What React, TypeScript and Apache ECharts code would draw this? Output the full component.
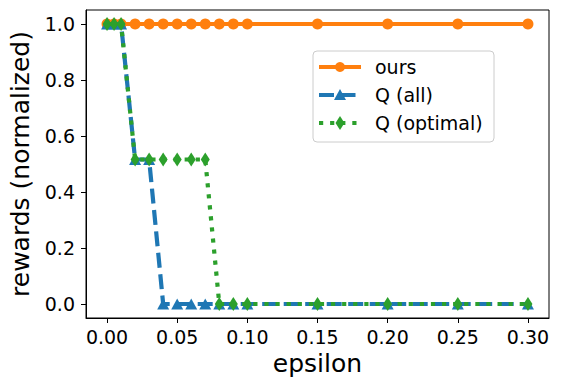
import React, { useEffect, useRef } from "react";
import * as echarts from "echarts";

const epsilons = [0, 0.005, 0.01, 0.02, 0.03, 0.04, 0.05, 0.06, 0.07, 0.08, 0.09, 0.1, 0.15, 0.2, 0.25, 0.3];
const ours = [1, 1, 1, 1, 1, 1, 1, 1, 1, 1, 1, 1, 1, 1, 1, 1];
const qAll = [1, 1, 1, 0.516, 0.516, 0, 0, 0, 0, 0, 0, 0, 0, 0, 0, 0];
const qOptimal = [1, 1, 1, 0.516, 0.516, 0.516, 0.516, 0.516, 0.516, 0, 0, 0, 0, 0, 0, 0];
const seriesNames = ["ours", "Q (all)", "Q (optimal)"];
const xTicks = [0, 0.05, 0.1, 0.15, 0.2, 0.25, 0.3];
const yTicks = [0, 0.2, 0.4, 0.6, 0.8, 1.0];

const FONT = "DejaVu Sans";
const COLORS = ["#ff7f0e", "#1f77b4", "#2ca02c"];
const LW = 4.2;
const DASH_ALL = [15, 6.5];
const DASH_OPT = [4.2, 6.9];

function pairs(ys: number[]) {
  return epsilons.map((x, i) => [x, ys[i]]);
}

function legendGraphics() {
  const left = 313;
  const top = 51;
  const els: any[] = [
    {
      type: "rect",
      shape: { x: left, y: top, width: 181, height: 91, r: 4 },
      style: { fill: "rgba(255,255,255,0.8)", stroke: "#cccccc", lineWidth: 1 },
      z: 100,
    },
  ];
  const dashes: any[] = [null, DASH_ALL, DASH_OPT];
  seriesNames.forEach((name, i) => {
    const cy = top + 16 + i * 28;
    const color = COLORS[i];
    els.push({
      type: "line",
      shape: { x1: 319, y1: cy, x2: 361, y2: cy },
      style: { stroke: color, lineWidth: LW, lineDash: dashes[i] || undefined, lineCap: "butt" },
      z: 101,
    });
    if (i === 0) {
      els.push({ type: "circle", shape: { cx: 340, cy, r: 5 }, style: { fill: color }, z: 102 });
    } else if (i === 1) {
      els.push({
        type: "polygon",
        shape: { points: [[340, cy - 6], [346, cy + 5], [334, cy + 5]] },
        style: { fill: color },
        z: 102,
      });
    } else {
      els.push({
        type: "polygon",
        shape: { points: [[340, cy - 7], [344.5, cy], [340, cy + 7], [335.5, cy]] },
        style: { fill: color },
        z: 102,
      });
    }
    els.push({
      type: "text",
      x: 375,
      y: cy,
      style: { text: name, fontSize: 19, fontFamily: FONT, fill: "#000", verticalAlign: "middle", align: "left" },
      z: 102,
    });
  });
  return els;
}

export default function App() {
  const ref = useRef<HTMLDivElement>(null);
  useEffect(() => {
    if (!ref.current) return;
    const chart = echarts.init(ref.current, null, { renderer: "svg" });
    chart.setOption({
      animation: false,
      backgroundColor: "#ffffff",
      textStyle: { fontFamily: FONT },
      grid: {
        left: 86,
        top: 10,
        width: 463,
        height: 308,
        containLabel: false,
        outerBoundsMode: "none",
        show: true,
        borderColor: "#000",
        borderWidth: 1,
        backgroundColor: "transparent",
      },
      xAxis: {
        type: "value",
        min: -0.015,
        max: 0.315,
        name: "epsilon",
        nameLocation: "middle",
        nameGap: 32,
        nameTextStyle: { fontSize: 25, color: "#000", fontFamily: FONT },
        splitLine: { show: false },
        axisLine: { show: true, onZero: false, lineStyle: { color: "#000", width: 1 } },
        axisTick: { show: true, length: 5, inside: false, lineStyle: { color: "#000" }, customValues: xTicks },
        axisLabel: {
          fontSize: 19,
          color: "#000",
          fontFamily: FONT,
          margin: 9,
          customValues: xTicks,
          formatter: (v: number) => v.toFixed(2),
        },
      },
      yAxis: {
        type: "value",
        min: -0.05,
        max: 1.05,
        name: "rewards (normalized)",
        nameLocation: "middle",
        nameGap: 53,
        nameTextStyle: { fontSize: 25, color: "#000", fontFamily: FONT },
        splitLine: { show: false },
        axisLine: { show: true, onZero: false, lineStyle: { color: "#000", width: 1 } },
        axisTick: { show: true, length: 5, inside: false, lineStyle: { color: "#000" }, customValues: yTicks },
        axisLabel: {
          fontSize: 19,
          color: "#000",
          fontFamily: FONT,
          margin: 11,
          customValues: yTicks,
          formatter: (v: number) => v.toFixed(1),
        },
      },
      graphic: legendGraphics(),
      series: [
        {
          name: seriesNames[0],
          type: "line",
          data: pairs(ours),
          color: COLORS[0],
          symbol: "circle",
          symbolSize: 11,
          showAllSymbol: true,
          lineStyle: { width: LW, color: COLORS[0] },
          itemStyle: { color: COLORS[0] },
          z: 2,
        },
        {
          name: seriesNames[1],
          type: "line",
          data: pairs(qAll),
          color: COLORS[1],
          symbol: "triangle",
          symbolSize: [12, 11],
          showAllSymbol: true,
          lineStyle: { width: LW, color: COLORS[1], type: DASH_ALL, cap: "butt" },
          itemStyle: { color: COLORS[1] },
          z: 3,
        },
        {
          name: seriesNames[2],
          type: "line",
          data: pairs(qOptimal),
          color: COLORS[2],
          symbol: "diamond",
          symbolSize: [9, 14],
          showAllSymbol: true,
          lineStyle: { width: LW, color: COLORS[2], type: DASH_OPT, cap: "butt" },
          itemStyle: { color: COLORS[2] },
          z: 4,
        },
      ],
    });
    return () => chart.dispose();
  }, []);
  return <div ref={ref} style={{ width: 563, height: 387, position: "absolute", left: 0, top: 0 }} />;
}
